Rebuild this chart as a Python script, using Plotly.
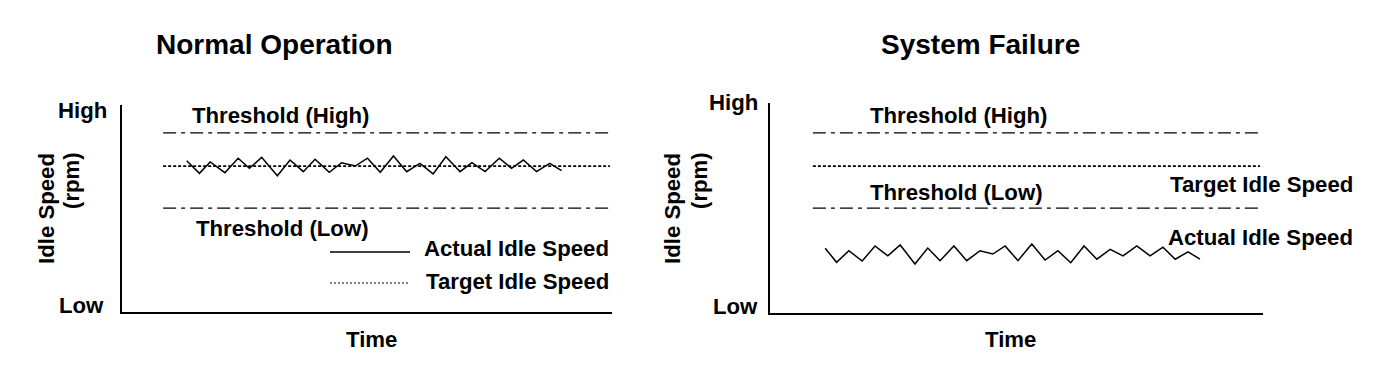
import plotly.graph_objects as go

# ---------------- data ----------------
# time axis in arbitrary units 0..100, idle speed in arbitrary units 0..100
time_left = [13.2, 15.8, 18.0, 21.0, 23.7, 26.0, 28.5, 31.7, 34.3, 37.0,
             39.4, 42.3, 44.8, 47.6, 50.1, 52.7, 55.4, 58.1, 60.8, 63.5,
             66.1, 69.0, 71.4, 74.1, 77.0, 79.5, 81.9, 84.6, 87.3, 89.7]
actual_left = [73.1, 67.0, 72.5, 67.3, 74.3, 69.4, 74.7, 65.8, 73.4, 67.8,
               73.8, 67.5, 72.1, 70.5, 74.3, 67.5, 75.4, 67.8, 71.8, 66.7,
               75.0, 67.8, 72.1, 67.8, 74.3, 69.4, 73.4, 67.8, 71.8, 68.3]

time_right = [11.2, 13.5, 16.0, 18.7, 21.3, 23.9, 26.4, 29.4, 32.0, 34.5,
              37.3, 39.9, 42.6, 45.2, 47.7, 50.3, 53.1, 55.8, 58.4, 61.0,
              63.7, 66.3, 69.0, 71.6, 74.4, 77.1, 79.7, 82.2, 84.8, 87.2]
actual_right = [30.8, 24.0, 29.6, 24.6, 31.9, 27.1, 32.4, 23.2, 30.9, 24.8,
                31.9, 24.8, 29.6, 28.0, 31.9, 24.8, 32.9, 25.1, 29.6, 23.8,
                31.9, 25.5, 30.3, 27.1, 31.9, 27.1, 31.3, 25.5, 29.1, 25.5]

threshold_high = 86.5
target_speed = 70.5
threshold_low = 50.2
span_left = [8.4, 99.6]
span_right = [8.7, 99.4]

panel_titles = ["Normal Operation", "System Failure"]
y_label = "Idle Speed"
y_unit = "(rpm)"
x_label = "Time"
high_label, low_label = "High", "Low"

# ---------------- figure ----------------
W, H = 1392, 366
FONT = "Liberation Sans, Arial, Helvetica, sans-serif"
LBL = 22.2
TTL = 28


def xp(px):
    return px / W


def yp(py):
    return 1 - py / H


fig = go.Figure()

thr_dash = "13px,5px,4px,5px"
tgt_dash = "3px,2px"

for xa, ya, tx, ay, span in [("x", "y", time_left, actual_left, span_left),
                              ("x2", "y2", time_right, actual_right, span_right)]:
    for lvl in (threshold_high, threshold_low):
        fig.add_trace(go.Scatter(x=span, y=[lvl, lvl], mode="lines", xaxis=xa, yaxis=ya,
                                 line=dict(color="black", width=1.3, dash=thr_dash),
                                 showlegend=False, hoverinfo="skip"))
    fig.add_trace(go.Scatter(x=span, y=[target_speed, target_speed], mode="lines",
                             xaxis=xa, yaxis=ya,
                             line=dict(color="black", width=1.7, dash=tgt_dash),
                             showlegend=False, hoverinfo="skip"))
    fig.add_trace(go.Scatter(x=tx, y=ay, mode="lines", xaxis=xa, yaxis=ya,
                             line=dict(color="black", width=1.5),
                             showlegend=False, hoverinfo="skip"))

axis_common = dict(showgrid=False, zeroline=False, showticklabels=False, ticks="",
                   showline=True, linecolor="black", linewidth=2)

fig.update_layout(
    width=W, height=H,
    margin=dict(l=0, r=0, t=0, b=0),
    paper_bgcolor="white", plot_bgcolor="white",
    font=dict(family=FONT, color="black"),
    hovermode=False,
    xaxis=dict(domain=[xp(122), xp(612)], range=[0, 100], anchor="y", **axis_common),
    yaxis=dict(domain=[yp(312), yp(105)], range=[0, 100], anchor="x", **axis_common),
    xaxis2=dict(domain=[xp(770), xp(1263)], range=[0, 100], anchor="y2", **axis_common),
    yaxis2=dict(domain=[yp(313), yp(103)], range=[(312 - 313) / 2.07, (312 - 103) / 2.07],
                anchor="x2", **axis_common),
)

ann = []


def text(s, x, y, size=LBL, xanchor="center", angle=0):
    ann.append(dict(text=f"<b>{s}</b>", x=xp(x), y=yp(y), xref="paper", yref="paper",
                    xanchor=xanchor, yanchor="middle", showarrow=False, textangle=angle,
                    font=dict(size=size, family=FONT, color="black")))


# left panel
text(panel_titles[0], 273.5, 44, size=TTL)
text("Threshold (High)", 280.5, 115)
text("Threshold (Low)", 282.5, 228)
text("Actual Idle Speed", 516.5, 248)
text("Target Idle Speed", 517.5, 281)
text(x_label, 371, 339)
text(y_label, 46, 209, angle=-90)
text(y_unit, 71, 181, angle=-90)
text(high_label, 109, 110, xanchor="right")
text(low_label, 106, 305, xanchor="right")

# right panel
text(panel_titles[1], 980.5, 44, size=TTL)
text("Threshold (High)", 958.5, 115)
text("Threshold (Low)", 956, 192)
text("Target Idle Speed", 1261, 184)
text("Actual Idle Speed", 1260.5, 238)
text(x_label, 1010, 339)
text(y_label, 672, 209, angle=-90)
text(y_unit, 699, 181, angle=-90)
text(high_label, 760, 103, xanchor="right")
text(low_label, 760, 306, xanchor="right")

fig.update_layout(annotations=ann)

# legend samples (left panel)
fig.add_shape(type="line", xref="paper", yref="paper", x0=xp(330), x1=xp(410),
              y0=yp(252), y1=yp(252), line=dict(color="black", width=1.5))
fig.add_shape(type="line", xref="paper", yref="paper", x0=xp(330), x1=xp(410),
              y0=yp(283), y1=yp(283), line=dict(color="black", width=1, dash="2px,2px"))

fig.write_html("out.html",
               config={"displayModeBar": False, "staticPlot": True},
               post_script="document.body.style.margin='0';document.body.style.overflow='hidden';")
